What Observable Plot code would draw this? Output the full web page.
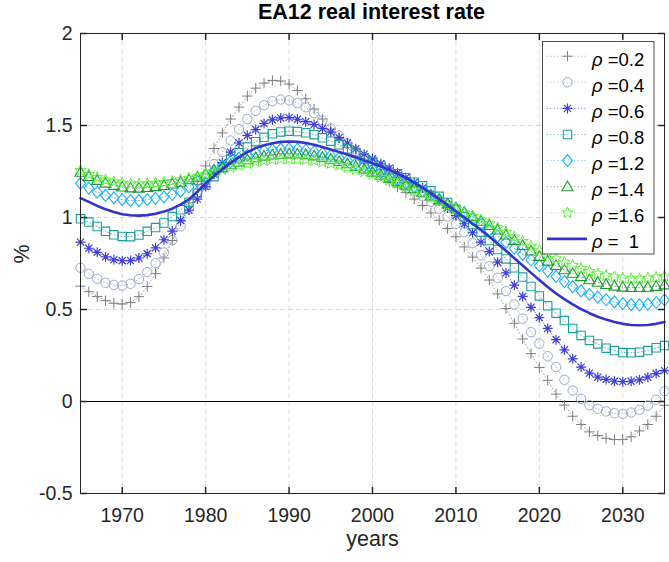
<!DOCTYPE html>
<html><head><meta charset="utf-8">
<script src="https://cdn.jsdelivr.net/npm/d3@7"></script>
<script src="https://cdn.jsdelivr.net/npm/@observablehq/plot@0.6"></script>
<style>
html,body{margin:0;padding:0;background:#fff;}
#wrap{position:relative;width:669px;height:562px;font-family:"Liberation Sans",Arial,Helvetica,sans-serif;}
#title{height:28px;line-height:24px;font-size:21.5px;font-weight:bold;text-align:center;padding-left:80px;padding-right:6px;color:#000;box-sizing:border-box;width:669px;white-space:nowrap;}
#legend{position:absolute;left:541.5px;top:40.5px;overflow:visible;}
#chart svg{display:block;}
</style></head><body>
<div id="wrap"><div id="title">EA12 real interest rate</div><div id="chart"></div><svg id="legend" width="113" height="214"></svg></div>
<script>
const years = [1965,1966,1967,1968,1969,1970,1971,1972,1973,1974,1975,1976,1977,1978,1979,1980,1981,1982,1983,1984,1985,1986,1987,1988,1989,1990,1991,1992,1993,1994,1995,1996,1997,1998,1999,2000,2001,2002,2003,2004,2005,2006,2007,2008,2009,2010,2011,2012,2013,2014,2015,2016,2017,2018,2019,2020,2021,2022,2023,2024,2025,2026,2027,2028,2029,2030,2031,2032,2033,2034,2035];

const rho02 = [0.627,0.597,0.570,0.548,0.534,0.530,0.538,0.570,0.625,0.695,0.780,0.875,0.980,1.080,1.180,1.280,1.375,1.460,1.535,1.600,1.660,1.703,1.730,1.745,1.742,1.725,1.690,1.645,1.590,1.535,1.480,1.430,1.380,1.335,1.295,1.255,1.225,1.195,1.165,1.135,1.100,1.065,1.025,0.985,0.940,0.895,0.840,0.785,0.725,0.660,0.585,0.505,0.425,0.340,0.260,0.185,0.115,0.040,-0.020,-0.080,-0.125,-0.165,-0.185,-0.200,-0.207,-0.207,-0.192,-0.160,-0.125,-0.080,-0.020];
const rho04 = [0.727,0.694,0.667,0.645,0.634,0.630,0.640,0.665,0.703,0.752,0.810,0.877,0.952,1.045,1.135,1.215,1.290,1.355,1.418,1.480,1.535,1.580,1.610,1.632,1.641,1.637,1.621,1.599,1.567,1.527,1.485,1.445,1.402,1.362,1.323,1.290,1.260,1.230,1.200,1.170,1.142,1.115,1.085,1.048,1.005,0.965,0.920,0.860,0.795,0.735,0.672,0.600,0.527,0.450,0.377,0.315,0.246,0.187,0.118,0.060,0.015,-0.020,-0.040,-0.054,-0.064,-0.067,-0.060,-0.045,-0.022,0.010,0.056];
const rho06 = [0.866,0.833,0.811,0.786,0.770,0.765,0.766,0.780,0.803,0.835,0.879,0.926,0.984,1.040,1.100,1.168,1.235,1.298,1.355,1.405,1.446,1.478,1.511,1.531,1.541,1.543,1.534,1.521,1.505,1.484,1.464,1.434,1.405,1.373,1.344,1.319,1.292,1.268,1.243,1.217,1.190,1.160,1.127,1.092,1.052,1.010,0.966,0.917,0.866,0.815,0.757,0.699,0.632,0.571,0.512,0.456,0.397,0.336,0.281,0.232,0.187,0.154,0.132,0.120,0.110,0.108,0.110,0.118,0.132,0.152,0.168];
const rho08 = [0.993,0.975,0.951,0.925,0.906,0.897,0.896,0.905,0.925,0.945,0.970,1.005,1.042,1.083,1.132,1.175,1.222,1.270,1.315,1.352,1.383,1.412,1.436,1.455,1.465,1.469,1.467,1.460,1.450,1.433,1.415,1.395,1.373,1.350,1.325,1.304,1.283,1.260,1.238,1.216,1.192,1.172,1.145,1.115,1.082,1.045,1.005,0.962,0.920,0.875,0.826,0.775,0.727,0.676,0.625,0.574,0.520,0.480,0.440,0.397,0.359,0.332,0.313,0.290,0.277,0.266,0.265,0.268,0.277,0.292,0.304];
const rho10 = [1.105,1.085,1.063,1.045,1.030,1.018,1.012,1.010,1.013,1.020,1.032,1.048,1.070,1.098,1.140,1.185,1.225,1.263,1.297,1.328,1.355,1.377,1.393,1.404,1.411,1.413,1.411,1.405,1.395,1.383,1.370,1.356,1.342,1.327,1.311,1.295,1.278,1.259,1.238,1.215,1.190,1.162,1.132,1.100,1.067,1.034,1.000,0.966,0.932,0.895,0.857,0.819,0.779,0.739,0.699,0.660,0.622,0.587,0.556,0.528,0.502,0.480,0.461,0.445,0.432,0.422,0.416,0.414,0.416,0.422,0.432];
const rho12 = [1.186,1.160,1.138,1.120,1.107,1.097,1.092,1.092,1.097,1.104,1.112,1.125,1.143,1.167,1.197,1.228,1.256,1.281,1.304,1.323,1.339,1.352,1.362,1.368,1.372,1.373,1.371,1.366,1.358,1.348,1.336,1.323,1.309,1.294,1.278,1.261,1.244,1.226,1.207,1.187,1.166,1.144,1.121,1.097,1.072,1.046,1.019,0.991,0.962,0.931,0.898,0.865,0.832,0.800,0.769,0.739,0.709,0.680,0.652,0.624,0.601,0.582,0.567,0.553,0.541,0.532,0.527,0.525,0.529,0.538,0.553];
const rho14 = [1.246,1.223,1.202,1.187,1.175,1.166,1.161,1.160,1.163,1.168,1.174,1.182,1.192,1.205,1.219,1.236,1.254,1.271,1.287,1.301,1.314,1.325,1.334,1.340,1.344,1.346,1.345,1.341,1.335,1.327,1.317,1.305,1.292,1.278,1.263,1.247,1.230,1.213,1.195,1.176,1.157,1.137,1.117,1.096,1.074,1.052,1.029,1.005,0.980,0.957,0.932,0.905,0.876,0.848,0.818,0.789,0.763,0.739,0.716,0.697,0.679,0.662,0.648,0.636,0.627,0.622,0.620,0.620,0.621,0.626,0.634];
const rho16 = [1.255,1.234,1.217,1.204,1.194,1.187,1.183,1.182,1.183,1.186,1.190,1.196,1.204,1.213,1.224,1.236,1.248,1.260,1.272,1.283,1.293,1.302,1.309,1.314,1.317,1.318,1.317,1.314,1.309,1.302,1.293,1.283,1.272,1.260,1.247,1.233,1.218,1.202,1.185,1.167,1.148,1.128,1.108,1.087,1.066,1.045,1.025,1.006,0.987,0.966,0.944,0.920,0.894,0.870,0.843,0.820,0.798,0.776,0.757,0.739,0.722,0.707,0.694,0.685,0.677,0.671,0.667,0.667,0.670,0.675,0.681];

const seriesLabels = ["0.2","0.4","0.6","0.8","1.2","1.4","1.6","  1"];
const xTicks = [1970,1980,1990,2000,2010,2020,2030];
const yTicks = [-0.5,0,0.5,1,1.5,2];

// marker shapes (MATLAB-like)
const rad = s => Math.sqrt(s / Math.PI);
const SYM = {
  plus: {draw(c, s){ const r = rad(s); c.moveTo(-r,0); c.lineTo(r,0); c.moveTo(0,-r); c.lineTo(0,r); }},
  circle: {draw(c, s){ const r = rad(s); c.moveTo(r,0); c.arc(0,0,r,0,2*Math.PI); c.closePath(); }},
  asterisk: {draw(c, s){ const r = rad(s), d = r*Math.SQRT1_2; c.moveTo(-r,0); c.lineTo(r,0); c.moveTo(0,-r); c.lineTo(0,r); c.moveTo(-d,-d); c.lineTo(d,d); c.moveTo(-d,d); c.lineTo(d,-d); }},
  square: {draw(c, s){ const r = rad(s); c.moveTo(-r,-r); c.lineTo(r,-r); c.lineTo(r,r); c.lineTo(-r,r); c.closePath(); }},
  diamond: {draw(c, s){ const r = rad(s); c.moveTo(0,-r*1.2); c.lineTo(r,0); c.lineTo(0,r*1.2); c.lineTo(-r,0); c.closePath(); }},
  triangle: {draw(c, s){ const r = rad(s); c.moveTo(0,-r); c.lineTo(r,r*0.72); c.lineTo(-r,r*0.72); c.closePath(); }},
  star: {draw(c, s){ const R = rad(s), ri = R*0.42; for (let k=0;k<10;k++){ const a = -Math.PI/2 + k*Math.PI/5; const rr = k%2 ? ri : R; const px = rr*Math.cos(a), py = rr*Math.sin(a); if(k===0) c.moveTo(px,py); else c.lineTo(px,py);} c.closePath(); }}
};

const specs = [
  {vals: rho02, sym: SYM.plus,     r: 5.2, color: "#7f7f7f", sw: 1},
  {vals: rho04, sym: SYM.circle,   r: 4.7, color: "#9aaacb", sw: 1},
  {vals: rho06, sym: SYM.asterisk, r: 5.0, color: "#3f3fd9", sw: 1.2},
  {vals: rho08, sym: SYM.square,   r: 4.2, color: "#1f9e9e", sw: 1.1},
  {vals: rho12, sym: SYM.diamond,  r: 5.0, color: "#1ab2ff", sw: 1.1},
  {vals: rho14, sym: SYM.triangle, r: 5.6, color: "#1f9933", sw: 1.1},
  {vals: rho16, sym: SYM.star,     r: 6.0, color: "#5cf03c", sw: 1}
];
const mainColor = "#3434cc";

const rows = vals => years.map((yr, i) => ({year: yr, v: vals[i]}));
const tickShape = {draw(c, l){ c.moveTo(0,0); c.lineTo(0,-l); }};
const axisColor = "#262626";

const marks = [
  Plot.gridX(xTicks, {stroke: axisColor, strokeOpacity: 0.16, strokeDasharray: "5,3", strokeWidth: 1}),
  Plot.gridY(yTicks, {stroke: axisColor, strokeOpacity: 0.16, strokeDasharray: "5,3", strokeWidth: 1}),
  Plot.ruleY([0], {stroke: "#000", strokeWidth: 1})
];
for (const s of specs) {
  const d = rows(s.vals);
  marks.push(Plot.line(d, {x: "year", y: "v", stroke: s.color, strokeWidth: 0.9, strokeDasharray: "1,2.4", strokeOpacity: 0.8}));
  marks.push(Plot.dot(d, {x: "year", y: "v", symbol: s.sym, r: s.r, stroke: s.color, fill: "none", strokeWidth: s.sw}));
}
marks.push(Plot.line(rows(rho10), {x: "year", y: "v", stroke: mainColor, strokeWidth: 2.6}));
marks.push(
  Plot.frame({stroke: axisColor, strokeWidth: 1}),
  Plot.vector(xTicks, {x: d => d, frameAnchor: "bottom", length: 6, rotate: 0, anchor: "start", shape: tickShape, stroke: axisColor}),
  Plot.vector(xTicks, {x: d => d, frameAnchor: "top", length: 6, rotate: 180, anchor: "start", shape: tickShape, stroke: axisColor}),
  Plot.vector(yTicks, {y: d => d, frameAnchor: "left", length: 6, rotate: 90, anchor: "start", shape: tickShape, stroke: axisColor}),
  Plot.vector(yTicks, {y: d => d, frameAnchor: "right", length: 6, rotate: -90, anchor: "start", shape: tickShape, stroke: axisColor}),
  Plot.axisX({ticks: xTicks, tickSize: 0, tickPadding: 15, tickFormat: d => String(d), label: null, fontSize: 19.5}),
  Plot.axisY({ticks: yTicks, tickSize: 0, tickPadding: 8, tickFormat: d => String(d), label: null, fontSize: 19.5}),
  Plot.text(["years"], {frameAnchor: "bottom", dy: 52, fontSize: 21.5, fill: axisColor}),
  Plot.text(["%"], {frameAnchor: "left", dx: -58, rotate: -90, fontSize: 21.5, fill: axisColor})
);

const chart = Plot.plot({
  width: 669, height: 534,
  marginLeft: 80, marginRight: 5, marginTop: 5, marginBottom: 69,
  x: {domain: [1965, 2035]},
  y: {domain: [-0.5, 2]},
  style: {fontFamily: '"Liberation Sans", Arial, Helvetica, sans-serif', fontSize: "19.5px", color: axisColor, background: "white", overflow: "visible"},
  marks
});
document.getElementById("chart").appendChild(chart);

// legend
const lg = d3.select("#legend");
lg.append("rect").attr("x", 0.5).attr("y", 0.5).attr("width", 111.5).attr("height", 212.5)
  .attr("fill", "#fff").attr("stroke", axisColor).attr("stroke-width", 0.8);
const legendItems = specs.map((s, i) => ({...s, label: seriesLabels[i]}));
legendItems.push({sym: null, color: mainColor, label: seriesLabels[7]});
legendItems.forEach((it, i) => {
  const cy = 15.2 + 26.1 * i;
  const g = lg.append("g");
  if (it.sym) {
    g.append("line").attr("x1", 5).attr("x2", 45).attr("y1", cy).attr("y2", cy)
      .attr("stroke", it.color).attr("stroke-width", 0.9).attr("stroke-dasharray", "1,2.4").attr("stroke-opacity", 0.8);
    g.append("path").attr("d", d3.symbol(it.sym, it.r * it.r * Math.PI)()).attr("transform", `translate(25.5,${cy})`)
      .attr("fill", "none").attr("stroke", it.color).attr("stroke-width", it.sw);
  } else {
    g.append("line").attr("x1", 5).attr("x2", 45).attr("y1", cy).attr("y2", cy)
      .attr("stroke", it.color).attr("stroke-width", 2.6);
  }
  const t = g.append("text").attr("x", 50).attr("y", cy + 9.5)
    .attr("font-family", '"Liberation Sans", Arial, sans-serif').attr("font-size", 18.5).attr("fill", "#000")
    .style("white-space", "pre");
  t.append("tspan").attr("font-style", "italic").text("ρ");
  t.append("tspan").text(" =" + it.label);
});
</script>
</body></html>
